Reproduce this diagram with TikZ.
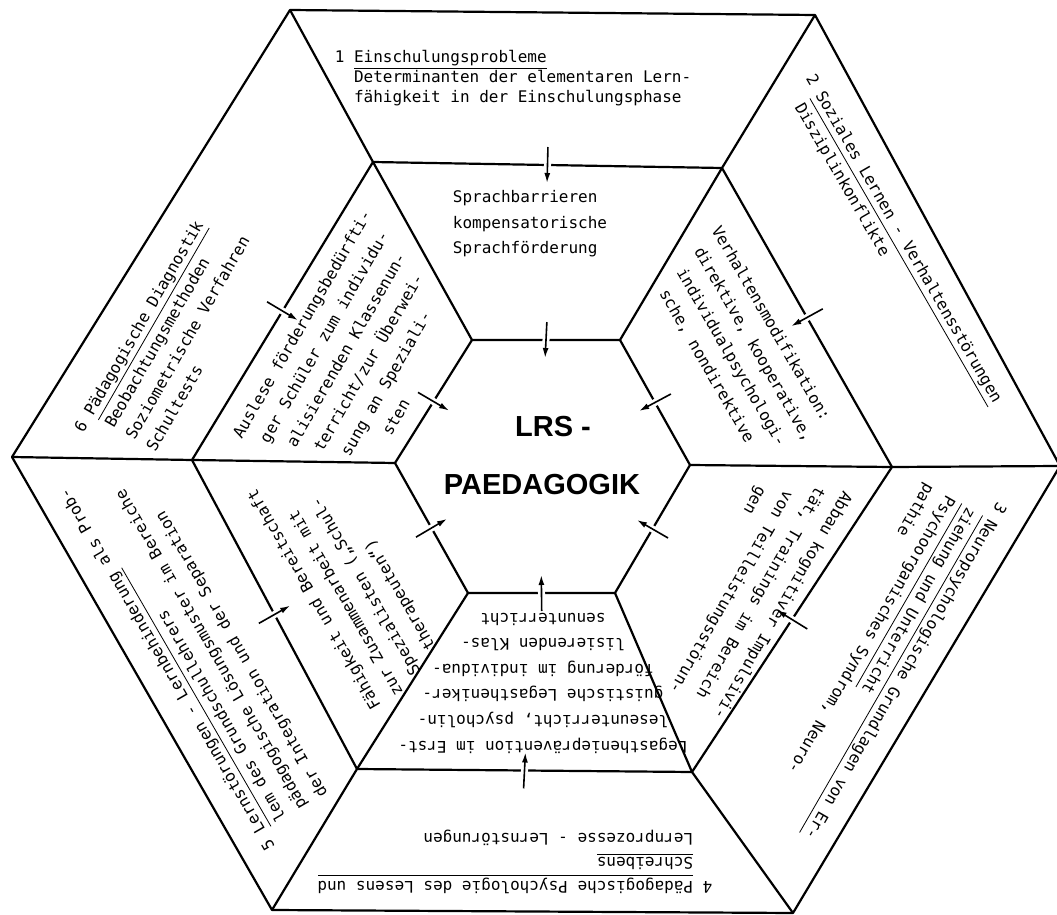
\documentclass[tikz,border=0pt]{standalone}
\usepackage{fontspec}
\newfontfamily\tw{DejaVu Sans Mono}
\newfontfamily\hv{Liberation Sans}
\usetikzlibrary{calc,arrows.meta}
\tikzstyle{ring} = [draw,line width=1.1pt,line join=round]
\tikzstyle{feed} = [draw,line width=0.8pt,-{Latex[length=5pt,width=3pt]},preaction={draw=white,line width=3.5pt,-,shorten <=2pt,shorten >=2pt}]
\tikzstyle{outerlbl} = [font=\tw\fontsize{8}{12}\selectfont,align=left,inner sep=0pt]
\tikzstyle{midlbl} = [font=\tw\fontsize{8}{12.8}\selectfont,align=left,inner sep=0pt]
\tikzstyle{title} = [font=\hv\bfseries\fontsize{14.5}{17}\selectfont,inner sep=0pt]
\newcommand{\titel}[1]{\underline{#1}}
% indent by a number of typewriter characters
\newcommand{\ind}[1]{\hspace*{#1\fontcharwd\font`x}}

\begin{document}
\begin{tikzpicture}[x=0.5pt,y=0.5pt]
    \useasboundingbox (0,0) rectangle (1057,-915);
    \coordinate (c) at (540,-464);
    % First the corners of the three hexagons
    \foreach \px/\py/\nm in {290/-10/o1,815/-15/o2,1060/-466/o3,793/-913/o4,272/-910/o5,12/-457/o6}
        \coordinate (\nm) at (\px,\py);
    \foreach \px/\py/\nm in {373/-162/m1,722/-168/m2,892/-467/m3,692/-772/m4,357/-769/m5,192/-460/m6}
        \coordinate (\nm) at (\px,\py);
    \foreach \px/\py/\nm in {472/-340/i1,620/-340/i2,690/-465/i3,615/-593/i4,468/-593/i5,395/-463/i6}
        \coordinate (\nm) at (\px,\py);

    % Rings and spokes
    \draw[ring] (o1) -- (o2) -- (o3) -- (o4) -- (o5) -- (o6) -- cycle;
    \draw[ring] (m1) -- (m2) -- (m3) -- (m4) -- (m5) -- (m6) -- cycle;
    \draw[ring] (i1) -- (i2) -- (i3) -- (i4) -- (i5) -- (i6) -- cycle;
    \foreach \k in {1,...,6}
        \draw[ring] (o\k) -- (m\k) -- (i\k);

    % Arrows through the edges, pointing inwards
    \foreach \a/\b in {m1/m2,m2/m3,m3/m4,m4/m5,m5/m6,m6/m1,i1/i2,i2/i3,i3/i4,i4/i5,i5/i6,i6/i1}
        \path[feed] ($(\a)!0.5!(\b)!-9pt!(c)$) -- ($(\a)!0.5!(\b)!9pt!(c)$);

    % Outer ring
    \node[outerlbl,font=\tw\fontsize{8}{10}\selectfont] (t1) at (513,-78) {1 \titel{Einschulungsprobleme}\\ \phantom{1 }Determinanten der elementaren Lern-\\ \phantom{1 }fähigkeit in der Einschulungsphase};
    \node[outerlbl,rotate=-60] (t2) at (893,-245) {2 \titel{Soziales Lernen - Verhaltensstörungen}\\ \phantom{2 }Disziplinkonflikte};
    \node[outerlbl,rotate=240] (t3) at (874,-653) {3 \titel{Neuropsychologische Grundlagen von Er-}\\ \phantom{3 }\titel{ziehung und Unterricht}\\ \phantom{3 }Psychoorganisches Syndrom, Neuro-\\ \phantom{3 }pathie};
    \node[outerlbl,rotate=180] (t4) at (515,-862) {4 \titel{Pädagogische Psychologie des Lesens und}\\ \phantom{4 }\titel{Schreibens}\\ \phantom{4 }Lernprozesse - Lernstörungen};
    \node[outerlbl,rotate=120] (t5) at (199,-651) {5 \titel{Lernstörungen - Lernbehinderung} als Prob-\\ \phantom{5 }lem des Grundschullehrers\\ \phantom{5 }pädagogische Lösungsmuster im Bereiche\\ \phantom{5 }der Integration und der Separation};
    \node[outerlbl,rotate=60] (t6) at (172,-340) {6 \titel{Pädagogische Diagnostik}\\ \phantom{6 }Beobachtungsmethoden\\ \phantom{6 }Soziometrische Verfahren\\ \phantom{6 }Schultests};

    % Middle ring
    \node[midlbl] (s1) at (530,-224) {Sprachbarrieren\\kompensatorische\\Sprachförderung};
    \node[midlbl,rotate=-60] (s2) at (740,-347) {Verhaltensmodifikation:\\\ind{1}direktive, kooperative,\\\ind{2}individualpsychologi-\\\ind{3}sche, nondirektive};
    \node[midlbl,rotate=240] (s3) at (749,-586) {Abbau kognitiver Impulsivi-\\\ind{1}tät, Trainings im Bereich\\\ind{3}von Teilleistungsstörun-\\\ind{4}gen};
    \node[midlbl,rotate=180,align=center] (s4) at (543,-683) {Legasthenieprävention im Erst-\\leseunterricht, psycholin-\\guistische Legastheniker-\\förderung im individua-\\lisierenden Klas-\\senunterricht};
    \node[midlbl,rotate=120] (s5) at (348,-580) {Fähigkeit und Bereitschaft\\zur Zusammenarbeit mit\\\ind{1}Spezialisten („Schul-\\\ind{2.5}therapeuten“)};
    \node[midlbl,rotate=60] (s6) at (357,-356) {Auslese förderungsbedürfti-\\\ind{1}ger Schüler zum individu-\\\ind{2}alisierenden Klassenun-\\\ind{3}terricht/zur Überwei-\\\ind{4}sung an Speziali-\\\ind{8}sten};

    % Centre
    \node[title] (lrs) at (553,-427) {LRS -};
    \node[title] (paed) at (542,-485) {PAEDAGOGIK};
\end{tikzpicture}
\end{document}
